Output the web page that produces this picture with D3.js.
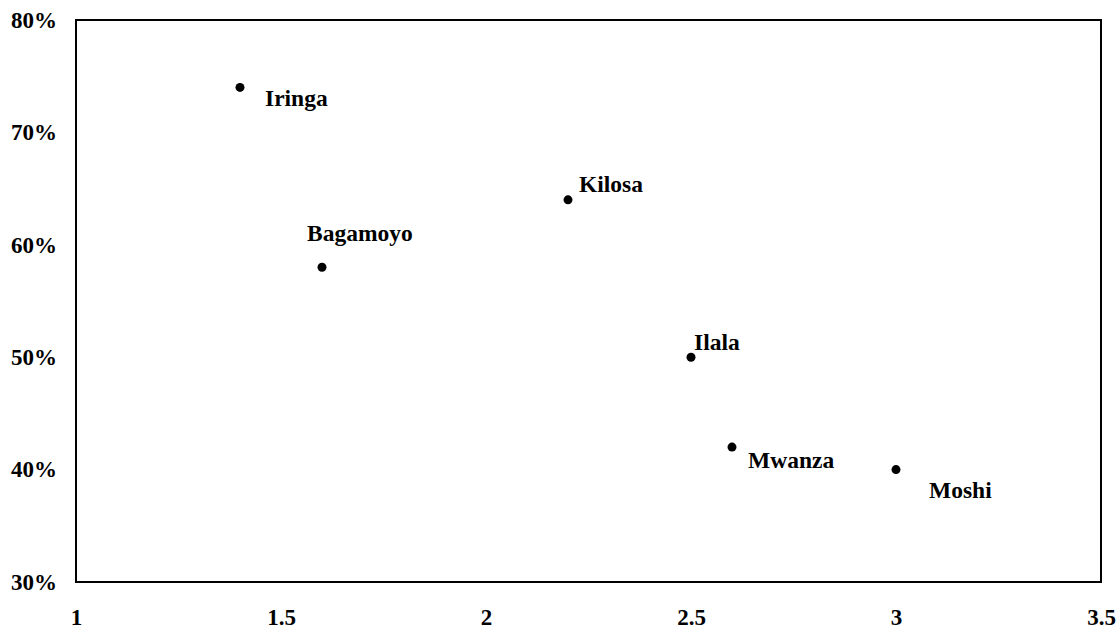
<!DOCTYPE html>
<html>
<head>
<meta charset="utf-8">
<script src="https://cdn.jsdelivr.net/npm/d3@7"></script>
<style>
  body { margin: 0; background: #fff; }
  text { font-family: "Liberation Serif", "Times New Roman", serif; font-weight: bold; }
  .ticktext { font-size: 23px; }
  .pointlabel { font-size: 23.5px; }
</style>
</head>
<body>
<script>
// data
var sites = ["Iringa", "Bagamoyo", "Kilosa", "Ilala", "Mwanza", "Moshi"];
var xValues = [1.4, 1.6, 2.2, 2.5, 2.6, 3.0];
var yValues = [0.74, 0.58, 0.64, 0.50, 0.42, 0.40];
var xTicks = [1, 1.5, 2, 2.5, 3, 3.5];
var yTicks = [0.3, 0.4, 0.5, 0.6, 0.7, 0.8];

// label placement relative to each point (pixels)
var labelOffset = {
  "Iringa":   [25, 19],
  "Bagamoyo": [-15, -26],
  "Kilosa":   [11, -8],
  "Ilala":    [3, -7],
  "Mwanza":   [16, 21],
  "Moshi":    [33, 28]
};

var margin = {top: 20, right: 17, bottom: 47, left: 76},
    width = 1118 - margin.left - margin.right,
    height = 629 - margin.top - margin.bottom;

var svg = d3.select("body").append("svg")
    .attr("width", 1118)
    .attr("height", 629)
  .append("g")
    .attr("transform", "translate(" + margin.left + "," + margin.top + ")");

var x = d3.scaleLinear().domain([1, 3.5]).range([0, width]);
var y = d3.scaleLinear().domain([0.3, 0.8]).range([height, 0]);

// plot frame
svg.append("rect")
    .attr("x", 0)
    .attr("y", 0)
    .attr("width", width)
    .attr("height", height)
    .attr("fill", "none")
    .attr("stroke", "#000")
    .attr("stroke-width", 2)
    .attr("shape-rendering", "crispEdges");

// x axis labels
var xAxis = svg.append("g")
    .attr("transform", "translate(0," + height + ")")
    .call(d3.axisBottom(x).tickValues(xTicks).tickSize(0).tickPadding(27)
      .tickFormat(function(d) { return String(d); }));
xAxis.select(".domain").remove();
xAxis.attr("font-size", null).attr("font-family", null);
xAxis.selectAll("text")
    .attr("class", "ticktext")
    .attr("fill", "#000");

// y axis labels
var yAxis = svg.append("g")
    .call(d3.axisLeft(y).tickValues(yTicks).tickSize(0).tickPadding(19)
      .tickFormat(d3.format(".0%")));
yAxis.select(".domain").remove();
yAxis.attr("font-size", null).attr("font-family", null);
yAxis.selectAll("text")
    .attr("class", "ticktext")
    .attr("fill", "#000");

var points = sites.map(function(s, i) { return {name: s, x: xValues[i], y: yValues[i]}; });

svg.selectAll(".dot")
    .data(points)
  .enter().append("circle")
    .attr("class", "dot")
    .attr("r", 4.5)
    .attr("cx", function(d) { return x(d.x); })
    .attr("cy", function(d) { return y(d.y); })
    .attr("fill", "#000");

svg.selectAll(".pointlabel")
    .data(points)
  .enter().append("text")
    .attr("class", "pointlabel")
    .attr("x", function(d) { return x(d.x) + labelOffset[d.name][0]; })
    .attr("y", function(d) { return y(d.y) + labelOffset[d.name][1]; })
    .text(function(d) { return d.name; });
</script>
</body>
</html>
